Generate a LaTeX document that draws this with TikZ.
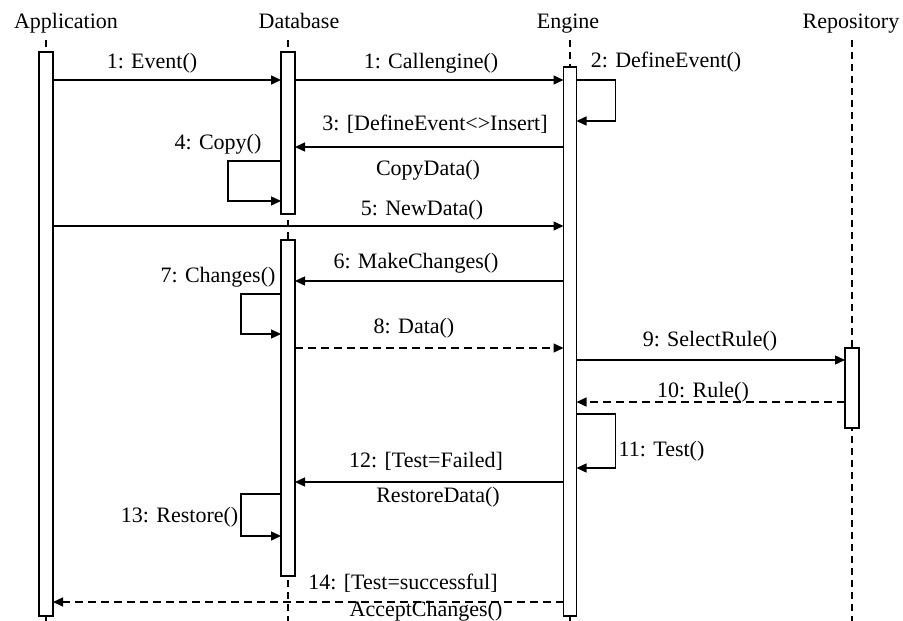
\documentclass[tikz,border=0pt]{standalone}
\usepackage{fontspec}
\setmainfont{Liberation Serif}
\usetikzlibrary{arrows.meta}
\begin{document}
\begin{tikzpicture}[x=1pt, y=-1pt, line width=1.4pt,
  lifeline/.style={dash pattern=on 7pt off 5pt, line width=1.2pt},
  actbar/.style={draw, fill=white, minimum width=14pt, inner sep=0pt, outer sep=0pt},
  msg/.style={-{Triangle[length=10pt,width=9pt]}},
  reply/.style={msg, dash pattern=on 8pt off 5pt},
  lbl/.style={font=\fontsize{22}{26}\selectfont, inner sep=0pt, anchor=base},
]
\useasboundingbox (0,0) rectangle (903,621);

% participant headings
\node[lbl] (hApp) at (66,28) {Application};
\node[lbl] (hDb)  at (299,28) {Database};
\node[lbl] (hEng) at (568,28) {Engine};
\node[lbl] (hRep) at (851,28) {Repository};

% lifelines
\coordinate (appTop) at (46,40);   \coordinate (appBot) at (46,621);
\coordinate (dbTop)  at (288,40);  \coordinate (dbBot)  at (288,621);
\coordinate (engTop) at (570,40);  \coordinate (engBot) at (570,621);
\coordinate (repTop) at (852,40);  \coordinate (repBot) at (852,621);
\draw[lifeline] (appTop) -- (appBot);
\draw[lifeline] (dbTop) -- (dbBot);
\draw[lifeline] (engTop) -- (engBot);
\draw[lifeline] (repTop) -- (repBot);

% activation bars
\node[actbar, minimum height=564pt] (app) at (46,334) {};
\node[actbar, minimum height=162pt] (db1) at (288,133) {};
\node[actbar, minimum height=336pt] (db2) at (288,408) {};
\node[actbar, minimum height=549pt, minimum width=13pt] (eng) at (570,341.5) {};
\node[actbar, minimum height=80pt] (rep) at (852,388) {};

% message rows
\coordinate (r1) at (0,80);
\coordinate (r2) at (0,121);
\coordinate (r3) at (0,147);
\coordinate (r4a) at (0,161);
\coordinate (r4b) at (0,201);
\coordinate (r5) at (0,226);
\coordinate (r6) at (0,281);
\coordinate (r7a) at (0,294);
\coordinate (r7b) at (0,334);
\coordinate (r8) at (0,348);
\coordinate (r9) at (0,360);
\coordinate (r10) at (0,402);
\coordinate (r11a) at (0,414);
\coordinate (r11b) at (0,468);
\coordinate (r12) at (0,482);
\coordinate (r13a) at (0,494);
\coordinate (r13b) at (0,536);
\coordinate (r14) at (0,602);

% messages
\draw[msg] (app.east |- r1) -- (db1.west |- r1);
\draw[msg] (db1.east |- r1) -- (eng.west |- r1);
\draw[msg] (eng.east |- r1) -- ++(39,0) |- (eng.east |- r2);
\draw[msg] (eng.west |- r3) -- (db1.east |- r3);
\draw[msg] (db1.west |- r4a) -- ++(-53,0) |- (db1.west |- r4b);
\draw[msg] (app.east |- r5) -- (eng.west |- r5);
\draw[msg] (eng.west |- r6) -- (db2.east |- r6);
\draw[msg] (db2.west |- r7a) -- ++(-40,0) |- (db2.west |- r7b);
\draw[reply] (db2.east |- r8) -- (eng.west |- r8);
\draw[msg] (eng.east |- r9) -- (rep.west |- r9);
\draw[reply] (rep.west |- r10) -- (eng.east |- r10);
\draw[msg] (eng.east |- r11a) -- ++(39,0) |- (eng.east |- r11b);
\draw[msg] (eng.west |- r12) -- (db2.east |- r12);
\draw[msg] (db2.west |- r13a) -- ++(-40,0) |- (db2.west |- r13b);
\draw[reply] (eng.west |- r14) -- (app.east |- r14);

% message labels
\node[lbl] (l1)  at (152,68)  {1: Event()};
\node[lbl] (l1b) at (431,68)  {1: Callengine()};
\node[lbl] (l2)  at (666,67)  {2: DefineEvent()};
\node[lbl] (l3)  at (435,130) {3: [DefineEvent<>Insert]};
\node[lbl] (l3b) at (428,175) {CopyData()};
\node[lbl] (l4)  at (218,149) {4: Copy()};
\node[lbl] (l5)  at (422,215) {5: NewData()};
\node[lbl] (l6)  at (416,268) {6: MakeChanges()};
\node[lbl] (l7)  at (218,282) {7: Changes()};
\node[lbl] (l8)  at (414,333) {8: Data()};
\node[lbl] (l9)  at (710,346) {9: SelectRule()};
\node[lbl] (l10) at (703,397) {10: Rule()};
\node[lbl, anchor=base west] (l11) at (618,456) {11: Test()};
\node[lbl] (l12) at (426,467) {12: [Test=Failed]};
\node[lbl] (l12b) at (438,502) {RestoreData()};
\node[lbl, anchor=base east] (l13) at (239,522) {13: Restore()};
\node[lbl] (l14) at (403,589) {14: [Test=successful]};
\node[lbl] (l14b) at (426,616) {AcceptChanges()};
\end{tikzpicture}
\end{document}
